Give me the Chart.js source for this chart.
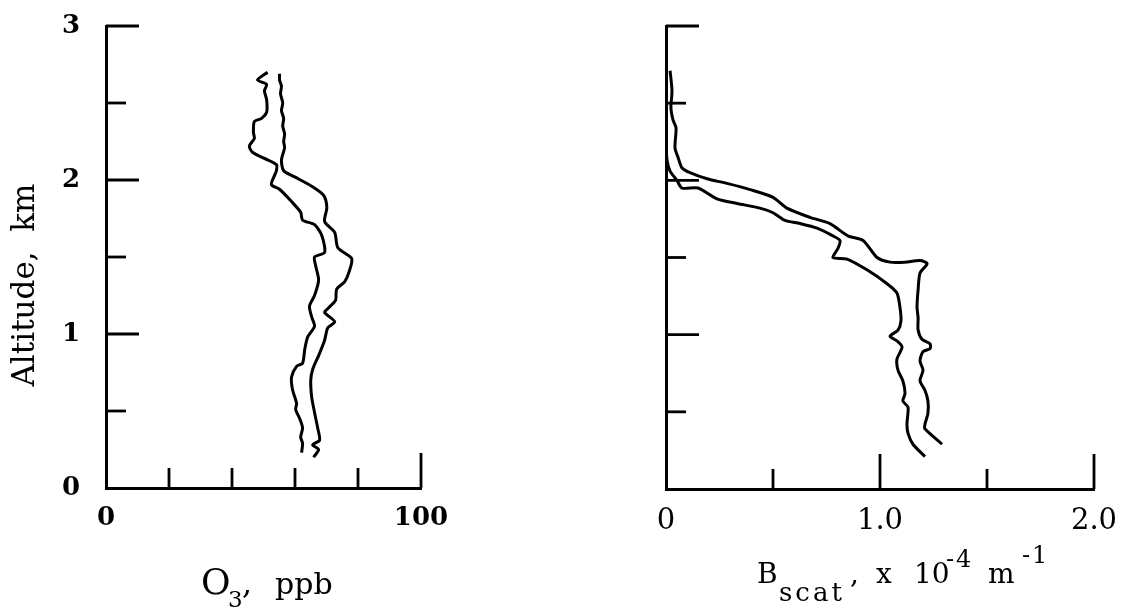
<!DOCTYPE html>
<html>
<head>
<meta charset="utf-8">
<script src="https://cdn.jsdelivr.net/npm/chart.js@4"></script>
<style>
  html, body { margin: 0; padding: 0; background: #fff; }
  #wrap { position: relative; width: 1127px; height: 609px; }
  .panel { position: absolute; top: 0; height: 609px; }
  #ozone-box { left: 0; width: 560px; }
  #bscat-box { left: 560px; width: 567px; }
</style>
</head>
<body>
<div id="wrap">
  <div class="panel" id="ozone-box"><canvas id="ozone-chart"></canvas></div>
  <div class="panel" id="bscat-box"><canvas id="bscat-chart"></canvas></div>
</div>
<script>
// O3 profiles (ppb) against altitude (km), traced top to bottom
let o3_a_ppb = [51.3, 48.1, 51.0, 50.3, 51.0, 51.0, 49.4, 47.1, 46.8, 47.1, 45.5, 46.5, 50.3, 54.1, 54.1, 53.5, 52.5, 55.1, 58.9, 61.8, 62.4, 66.2, 68.5, 69.4, 66.2, 66.6, 67.5, 66.2, 64.6, 65.3, 66.2, 64.0, 63.1, 62.4, 60.5, 58.9, 59.2, 60.5, 60.2, 61.5, 62.4, 61.8, 62.4, 62.1];
let o3_a_km  = [2.70, 2.65, 2.62, 2.58, 2.52, 2.44, 2.40, 2.38, 2.31, 2.27, 2.22, 2.18, 2.14, 2.10, 2.06, 2.03, 1.97, 1.94, 1.86, 1.79, 1.74, 1.71, 1.64, 1.53, 1.50, 1.44, 1.35, 1.25, 1.18, 1.11, 1.05, 0.98, 0.90, 0.81, 0.79, 0.72, 0.64, 0.55, 0.51, 0.45, 0.39, 0.33, 0.29, 0.23];

let o3_b_ppb = [55.1, 55.1, 55.7, 55.4, 56.1, 55.7, 56.4, 56.1, 56.7, 56.4, 56.7, 55.7, 56.4, 59.9, 65.3, 69.1, 70.1, 69.4, 72.6, 73.6, 78.0, 77.1, 75.8, 73.2, 72.9, 70.7, 69.4, 72.6, 70.4, 69.4, 67.5, 65.6, 65.0, 65.3, 66.2, 67.2, 67.8, 65.6, 67.5, 65.9];
let o3_b_km  = [2.69, 2.65, 2.61, 2.56, 2.50, 2.45, 2.40, 2.35, 2.30, 2.25, 2.21, 2.13, 2.06, 2.02, 1.96, 1.90, 1.82, 1.73, 1.66, 1.56, 1.49, 1.40, 1.34, 1.29, 1.22, 1.17, 1.14, 1.08, 1.04, 0.96, 0.86, 0.77, 0.70, 0.59, 0.49, 0.39, 0.31, 0.28, 0.25, 0.20];

// Bscat profiles (x 1e-4 m^-1) against altitude (km)
let bs_c_val = [0.019, 0.028, 0.023, 0.033, 0.047, 0.042, 0.056, 0.075, 0.112, 0.192, 0.285, 0.393, 0.500, 0.565, 0.673, 0.766, 0.850, 0.921, 0.986, 1.047, 1.117, 1.187, 1.220, 1.187, 1.178, 1.173, 1.178, 1.178, 1.196, 1.234, 1.234, 1.201, 1.187, 1.201, 1.187, 1.210, 1.224, 1.224, 1.210, 1.210, 1.290];
let bs_c_km  = [2.71, 2.58, 2.47, 2.39, 2.34, 2.21, 2.15, 2.08, 2.05, 2.01, 1.98, 1.94, 1.89, 1.82, 1.76, 1.72, 1.64, 1.61, 1.50, 1.47, 1.47, 1.48, 1.46, 1.40, 1.29, 1.18, 1.11, 1.03, 0.97, 0.94, 0.91, 0.89, 0.83, 0.77, 0.70, 0.64, 0.57, 0.49, 0.42, 0.39, 0.29];

let bs_d_val = [0.000, 0.000, 0.000, 0.005, 0.019, 0.051, 0.075, 0.150, 0.238, 0.332, 0.439, 0.500, 0.556, 0.626, 0.706, 0.780, 0.813, 0.804, 0.780, 0.846, 0.939, 1.033, 1.079, 1.093, 1.098, 1.084, 1.047, 1.079, 1.103, 1.079, 1.084, 1.107, 1.117, 1.107, 1.131, 1.126, 1.131, 1.154, 1.210];
let bs_d_km  = [2.68, 2.45, 2.26, 2.13, 2.06, 2.00, 1.95, 1.95, 1.88, 1.85, 1.82, 1.79, 1.74, 1.72, 1.69, 1.64, 1.61, 1.56, 1.50, 1.49, 1.42, 1.33, 1.27, 1.18, 1.09, 1.03, 0.99, 0.96, 0.92, 0.84, 0.77, 0.70, 0.62, 0.57, 0.53, 0.42, 0.36, 0.29, 0.21];

// labelled ticks
let alt_label_vals = [0, 1, 2, 3];
let o3_label_vals = [0, 100];
let bs_label_vals = [0, 1, 2];
let bs_label_text = ['0', '1.0', '2.0'];

function pts(xs, ys) {
  return xs.map((v, i) => ({ x: v, y: ys[i] }));
}

function profile(data) {
  return {
    data: data,
    showLine: true,
    borderColor: '#000',
    borderWidth: 3,
    pointRadius: 0,
    tension: 0.25,
    fill: false
  };
}

// inward tick marks; labelled ticks get the long ones
const tickMarks = {
  id: 'tickMarks',
  afterDatasetsDraw(chart, args, opts) {
    const ctx = chart.ctx, area = chart.chartArea;
    const xs = chart.scales.x, ys = chart.scales.y;
    ctx.save();
    ctx.strokeStyle = '#000';
    ctx.lineWidth = 2.8;
    ys.ticks.forEach(t => {
      if (t.value === 0) return;
      const py = ys.getPixelForValue(t.value);
      const len = opts.yLong.includes(t.value) ? 33 : 20;
      ctx.beginPath();
      ctx.moveTo(area.left, py);
      ctx.lineTo(area.left + len, py);
      ctx.stroke();
    });
    xs.ticks.forEach(t => {
      if (t.value === 0) return;
      const px = xs.getPixelForValue(t.value);
      const len = opts.xLong.includes(t.value) ? 35 : 20;
      ctx.beginPath();
      ctx.moveTo(px, area.bottom);
      ctx.lineTo(px, area.bottom - len);
      ctx.stroke();
    });
    ctx.restore();
  }
};

// axis titles with sub/superscripts, drawn piece by piece
const axisText = {
  id: 'axisText',
  afterDraw(chart, args, opts) {
    const ctx = chart.ctx;
    ctx.save();
    ctx.fillStyle = '#000';
    opts.pieces.forEach(p => {
      ctx.save();
      ctx.font = p.font;
      if ('letterSpacing' in ctx) ctx.letterSpacing = (p.spacing || 0) + 'px';
      ctx.translate(p.x, p.y);
      if (p.rotate) ctx.rotate(p.rotate);
      ctx.textAlign = p.align || 'left';
      ctx.textBaseline = p.baseline || 'alphabetic';
      ctx.fillText(p.text, 0, 0);
      ctx.restore();
    });
    ctx.restore();
  }
};

function axes(xMin, xMax, xStep, xLabel, yLabel, tickFont, yWidth, xHeight) {
  return {
    x: {
      type: 'linear',
      min: xMin, max: xMax,
      grid: { display: false },
      border: { display: true, color: '#000', width: 3 },
      ticks: {
        stepSize: xStep, autoSkip: false, maxRotation: 0,
        color: '#000', padding: 7, font: tickFont,
        callback: xLabel
      },
      afterFit: s => { s.height = xHeight; }
    },
    y: {
      type: 'linear',
      min: 0, max: 3,
      grid: { display: false },
      border: { display: true, color: '#000', width: 3 },
      ticks: {
        stepSize: 0.5, autoSkip: false,
        color: '#000', padding: 18, font: tickFont,
        callback: yLabel
      },
      // fixed width, and no extra room reserved for the end labels
      afterFit: s => { s.width = yWidth; s.paddingTop = 0; s.paddingBottom = 0; }
    }
  };
}

const serif = 'DejaVu Serif';

new Chart(document.getElementById('ozone-chart'), {
  type: 'scatter',
  data: {
    datasets: [
      profile(pts(o3_a_ppb, o3_a_km)),
      profile(pts(o3_b_ppb, o3_b_km))
    ]
  },
  options: {
    responsive: true,
    maintainAspectRatio: false,
    animation: false,
    layout: { padding: { top: 26, right: 139, left: 0, bottom: 0 } },
    scales: axes(0, 100, 20,
      v => o3_label_vals.includes(v) ? String(v) : '',
      v => alt_label_vals.includes(v) ? String(v) : '',
      { family: serif, size: 26, weight: 'bold' }, 106, 121),
    plugins: {
      legend: { display: false },
      tooltip: { enabled: false },
      tickMarks: { yLong: [1, 2, 3], xLong: [100] },
      axisText: {
        pieces: [
          { text: 'Altitude,  km', x: 26, y: 285, rotate: -Math.PI / 2, align: 'center', baseline: 'middle', font: '31px ' + serif },
          { text: 'O', x: 201, y: 594, font: '36px ' + serif },
          { text: '3', x: 228, y: 607, font: '23px ' + serif },
          { text: ',', x: 242, y: 594, font: '32px ' + serif },
          { text: 'ppb', x: 275, y: 594, font: '30px ' + serif }
        ]
      }
    }
  },
  plugins: [tickMarks, axisText]
});

new Chart(document.getElementById('bscat-chart'), {
  type: 'scatter',
  data: {
    datasets: [
      profile(pts(bs_c_val, bs_c_km)),
      profile(pts(bs_d_val, bs_d_km))
    ]
  },
  options: {
    responsive: true,
    maintainAspectRatio: false,
    animation: false,
    layout: { padding: { top: 26, right: 33, left: 0, bottom: 0 } },
    scales: axes(0, 2, 0.5,
      v => { const i = bs_label_vals.indexOf(v); return i >= 0 ? bs_label_text[i] : ''; },
      v => '',
      { family: serif, size: 29 }, 106, 120),
    plugins: {
      legend: { display: false },
      tooltip: { enabled: false },
      tickMarks: { yLong: [1, 2, 3], xLong: [1, 2] },
      axisText: {
        pieces: [
          { text: 'B', x: 197, y: 583, font: '28px ' + serif },
          { text: 'scat', x: 219, y: 601, font: '26px ' + serif, spacing: 3 },
          { text: ',', x: 290, y: 583, font: '28px ' + serif },
          { text: 'x', x: 316, y: 583, font: '28px ' + serif },
          { text: '10', x: 354, y: 583, font: '28px ' + serif },
          { text: '-4', x: 386, y: 567, font: '24px ' + serif, spacing: 2 },
          { text: 'm', x: 428, y: 583, font: '28px ' + serif },
          { text: '-1', x: 462, y: 563, font: '24px ' + serif, spacing: 2 }
        ]
      }
    }
  },
  plugins: [tickMarks, axisText]
});
</script>
</body>
</html>
